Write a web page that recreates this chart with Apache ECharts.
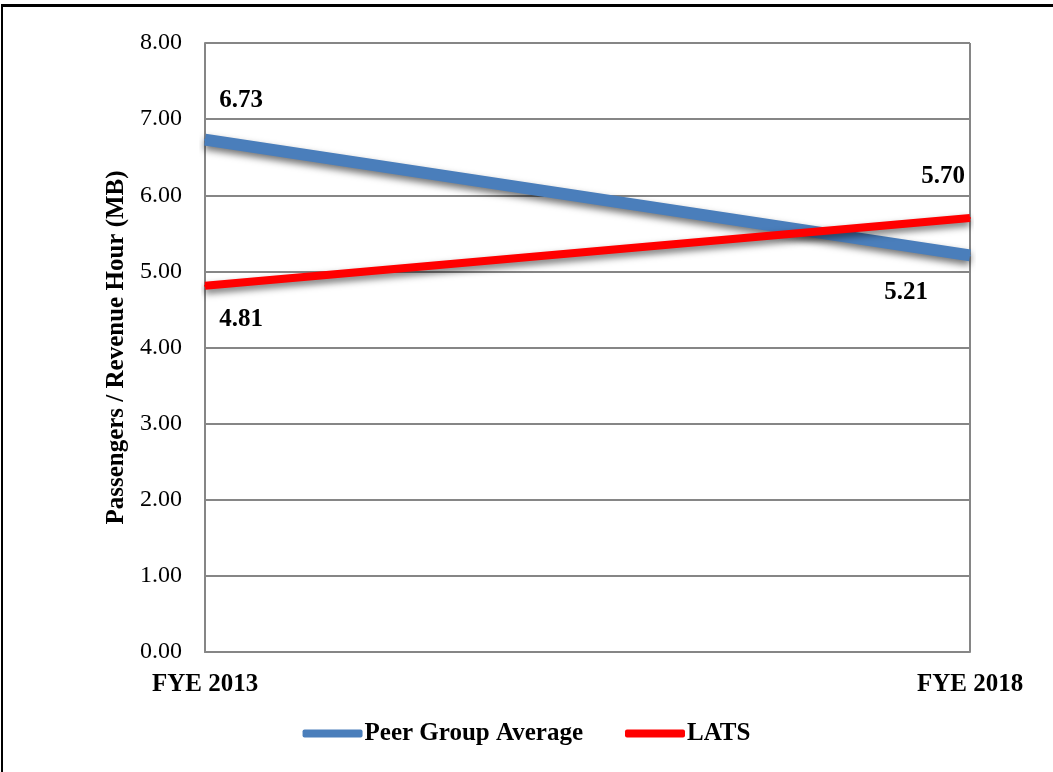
<!DOCTYPE html>
<html>
<head>
<meta charset="utf-8">
<script src="https://cdn.jsdelivr.net/npm/echarts@6/dist/echarts.min.js"></script>
<style>
  html, body { margin: 0; padding: 0; background: #fff; }
  #frame { position: absolute; left: 1px; top: 4px; width: 1060px; height: 780px;
           border-left: 2px solid #000; border-top: 3px solid #000; box-sizing: border-box; }
  #chart { position: absolute; left: 0; top: 0; width: 1053px; height: 772px; }
</style>
</head>
<body>
<div id="frame"></div>
<div id="chart"></div>
<script>
// Passengers per revenue hour, two fiscal years
const categories = ['FYE 2013', 'FYE 2018'];
const peerGroupAverage = [6.73, 5.21];
const lats = [4.81, 5.70];
const yTicks = { min: 0, max: 8, interval: 1 };

const serif = '"Liberation Serif", "DejaVu Serif", serif';

const chart = echarts.init(document.getElementById('chart'));

// attach a bold value label to each point, placed relative to the point
function withLabels(series, places) {
  return series.map(function (v, i) {
    return {
      value: v,
      label: {
        show: true,
        position: places[i],
        align: 'center',
        verticalAlign: 'middle',
        formatter: function (p) { return p.value.toFixed(2); },
        fontFamily: serif, fontWeight: 'bold', fontSize: 25, color: '#000'
      }
    };
  });
}

const peerData = withLabels(peerGroupAverage, [[37, -38], [-63, 38]]);
const latsData = withLabels(lats, [[37, 35], [-26, -41]]);

chart.setOption({
  animation: false,
  grid: { left: 205, right: 83, top: 43, bottom: 120 },
  legend: {
    bottom: 21,
    left: 'center',
    itemGap: 42,
    itemWidth: 60,
    itemHeight: 8,
    icon: 'roundRect',
    textStyle: { fontFamily: serif, fontWeight: 'bold', fontSize: 25, color: '#000', padding: [0, 0, 0, -3] },
    data: ['Peer Group Average', 'LATS']
  },
  xAxis: {
    type: 'category',
    data: categories,
    boundaryGap: false,
    axisLine: { show: true, lineStyle: { color: '#868686', width: 2 } },
    axisTick: { show: false },
    splitLine: { show: true, lineStyle: { color: '#868686', width: 2 } },
    axisLabel: { fontFamily: serif, fontWeight: 'bold', fontSize: 25, color: '#000', margin: 20 }
  },
  yAxis: {
    type: 'value',
    min: yTicks.min, max: yTicks.max, interval: yTicks.interval,
    name: 'Passengers / Revenue Hour (MB)',
    nameLocation: 'middle',
    nameGap: 75,
    nameTextStyle: { fontFamily: serif, fontWeight: 'bold', fontSize: 25, color: '#000' },
    axisLine: { show: true, lineStyle: { color: '#868686', width: 2 } },
    axisTick: { show: false },
    splitLine: { lineStyle: { color: '#868686', width: 2 } },
    axisLabel: {
      fontFamily: serif, fontSize: 24, color: '#000', margin: 23,
      formatter: function (v) { return v.toFixed(2); }
    }
  },
  series: [
    {
      name: 'Peer Group Average',
      type: 'line',
      data: peerData,
      symbol: 'circle',
      symbolSize: 2,
      showSymbol: true,
      itemStyle: { color: '#4a7ebb' },
      lineStyle: {
        color: '#4a7ebb', width: 12,
        shadowColor: 'rgba(0,0,0,0.55)', shadowBlur: 7, shadowOffsetY: 4
      }
    },
    {
      name: 'LATS',
      type: 'line',
      data: latsData,
      symbol: 'circle',
      symbolSize: 2,
      showSymbol: true,
      itemStyle: { color: '#ff0000' },
      lineStyle: {
        color: '#ff0000', width: 8,
        shadowColor: 'rgba(0,0,0,0.55)', shadowBlur: 7, shadowOffsetY: 4
      }
    }
  ]
});
</script>
</body>
</html>
